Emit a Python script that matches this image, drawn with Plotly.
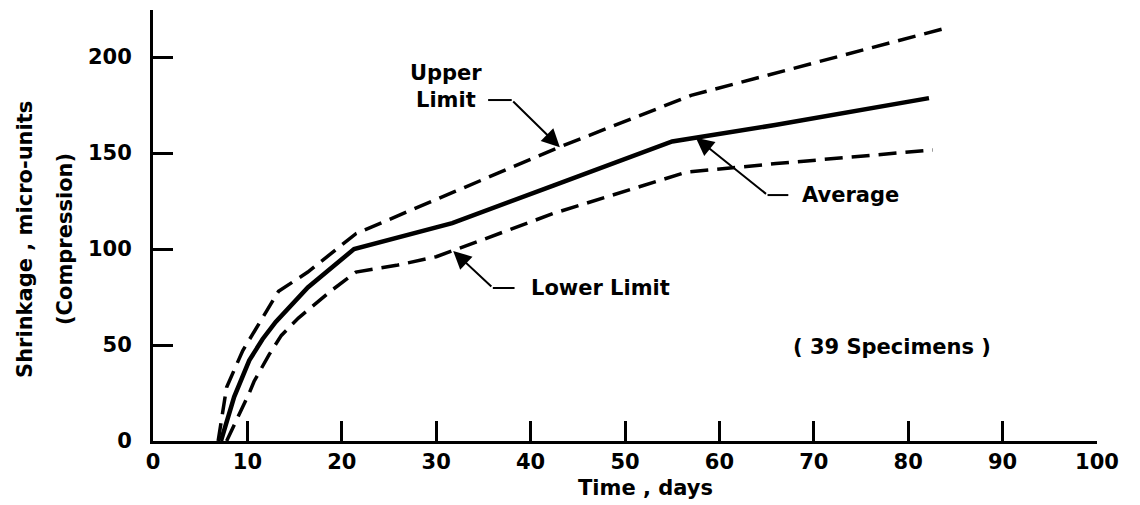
import plotly.graph_objects as go

# Shrinkage vs. time for 39 specimens: average curve with upper and lower limits
avg_days = [7.2, 8.6, 10.2, 11.6, 13.0, 16.4, 21.3, 31.7, 42.4, 55.0, 65.9, 82.2]
avg_shrink = [0, 23, 42, 53, 62, 80, 100, 113.5, 133, 156, 164.6, 178.6]

upper_days = [6.9, 7.8, 9.5, 11.6, 13.3, 16.4, 21.5, 32.0, 43.0, 57.0, 70.0, 84.4]
upper_shrink = [0, 28, 47, 64.6, 78, 88, 108, 130, 153, 180, 197, 215.6]

lower_days = [7.8, 9.0, 10.2, 10.7, 12.3, 13.6, 15.4, 18.8, 21.5, 25.8, 30.0, 35.0, 42.4, 56.5, 66.0, 82.6]
lower_shrink = [0, 12, 25, 31, 45, 55, 64, 78, 88, 91.5, 96, 105, 118.5, 140, 144.5, 151.6]

x_ticks = [0, 10, 20, 30, 40, 50, 60, 70, 80, 90, 100]
y_ticks = [0, 50, 100, 150, 200]

FONT = "DejaVu Sans"
INK = "black"

fig = go.Figure()
fig.add_trace(go.Scatter(x=upper_days, y=upper_shrink, mode="lines",
                         line=dict(color=INK, width=3.5, dash="18px,9px"),
                         name="Upper Limit", showlegend=False))
fig.add_trace(go.Scatter(x=lower_days, y=lower_shrink, mode="lines",
                         line=dict(color=INK, width=3.5, dash="18px,9px"),
                         name="Lower Limit", showlegend=False))
fig.add_trace(go.Scatter(x=avg_days, y=avg_shrink, mode="lines",
                         line=dict(color=INK, width=4.5),
                         name="Average", showlegend=False))

tick_font = dict(family=FONT, size=21, color=INK, weight="bold")
label_font = dict(family=FONT, size=21, color=INK, weight="bold")

fig.update_xaxes(range=[0, 100], tickvals=x_ticks, ticktext=[str(v) for v in x_ticks],
                 showline=True, linewidth=3, linecolor=INK, mirror=False,
                 ticks="inside", ticklen=20, tickwidth=2.5, tickcolor=INK,
                 showgrid=False, zeroline=False, tickfont=tick_font,
                 ticklabelstandoff=0)
fig.update_yaxes(range=[0, 224.5], tickvals=y_ticks, ticktext=[str(v) for v in y_ticks],
                 showline=True, linewidth=3, linecolor=INK, mirror=False,
                 ticks="inside", ticklen=20, tickwidth=2.5, tickcolor=INK,
                 showgrid=False, zeroline=False, tickfont=tick_font,
                 ticklabelstandoff=14)

annotations = []

def leader(text_x, text_y, text, seg_x0, seg_x1, seg_y, tip_x, tip_y, align="center"):
    # label text
    annotations.append(dict(x=text_x, y=text_y, xref="x", yref="y", text=text,
                            showarrow=False, font=label_font, align=align,
                            xanchor="center", yanchor="middle"))
    # diagonal pointer ending in an arrowhead on the curve
    annotations.append(dict(x=tip_x, y=tip_y, xref="x", yref="y", text="",
                            showarrow=True, ax=seg_x0, ay=seg_y, axref="x", ayref="y",
                            arrowhead=2, arrowsize=1.8, arrowwidth=2, arrowcolor=INK,
                            standoff=0, startstandoff=0))
    # short horizontal stub next to the label
    fig.add_shape(type="line", x0=seg_x0, x1=seg_x1, y0=seg_y, y1=seg_y,
                  xref="x", yref="y", line=dict(color=INK, width=2))

leader(31.0, 184.6, "Upper<br>Limit", 38.0, 35.5, 177.6, 43.1, 153.0)
leader(73.9, 128.1, "Average", 65.1, 67.3, 128.1, 57.5, 158.0)
leader(47.4, 79.7, "Lower Limit", 36.0, 38.3, 79.7, 31.8, 99.0)

annotations.append(dict(x=78.3, y=49, xref="x", yref="y", text="( 39 Specimens )",
                        showarrow=False, font=label_font,
                        xanchor="center", yanchor="middle"))

# axis titles
annotations.append(dict(x=0.522, y=-0.109, xref="paper", yref="paper", text="Time , days",
                        showarrow=False, font=label_font, xanchor="center", yanchor="middle"))
annotations.append(dict(x=-0.1356, y=0.4687, xref="paper", yref="paper",
                        text="Shrinkage , micro-units", textangle=-90,
                        showarrow=False, font=label_font, xanchor="center", yanchor="middle"))
annotations.append(dict(x=-0.0932, y=0.4687, xref="paper", yref="paper",
                        text="(Compression)", textangle=-90,
                        showarrow=False, font=label_font, xanchor="center", yanchor="middle"))

fig.update_layout(width=1140, height=505,
                  margin=dict(l=153, r=43, t=10, b=64),
                  plot_bgcolor="white", paper_bgcolor="white",
                  annotations=annotations, showlegend=False)

fig.write_html("out.html")
